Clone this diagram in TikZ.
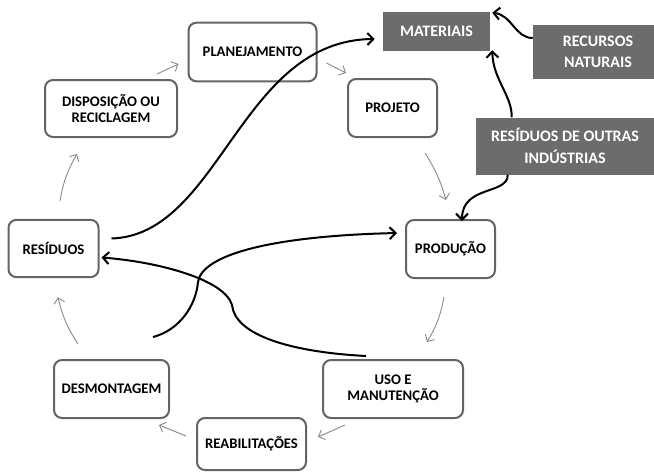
\documentclass[tikz,border=0pt]{standalone}
\usepackage{fontspec}
\setmainfont{Carlito}
\usetikzlibrary{arrows.meta}
\definecolor{borda}{RGB}{100,100,100}
\definecolor{cinza}{RGB}{108,108,108}
\definecolor{seta}{RGB}{140,140,140}

\begin{document}
\begin{tikzpicture}[
  x=0.75pt, y=-0.75pt,
  etapa/.style={
    rectangle, draw=borda, line width=1.5pt, rounded corners=6pt,
    fill=white, align=center, inner sep=0pt,
    font=\fontsize{11}{12.5}\selectfont\bfseries
  },
  fonte/.style={
    rectangle, fill=cinza, text=white, align=center, inner sep=0pt,
    font=\fontsize{12}{16}\selectfont\bfseries
  },
  ciclo/.style={-{Straight Barb[length=4pt,width=8pt]}, draw=seta, line width=0.7pt},
  fluxo/.style={-{Straight Barb[length=4.5pt,width=9pt]}, line width=1.5pt}
]
\useasboundingbox (0,0) rectangle (654,472);

\node[etapa, minimum width=96pt, minimum height=44pt] (plan) at (252.5,52) {PLANEJAMENTO};
\node[etapa, minimum width=66.75pt, minimum height=43.5pt] (proj) at (392.5,108) {PROJETO};
\node[etapa, minimum width=66.75pt, minimum height=43.5pt] (prod) at (450.5,249) {PRODUÇÃO};
\node[etapa, minimum width=105pt, minimum height=43.5pt] (uso) at (393,389) {USO E\\MANUTENÇÃO};
\node[etapa, minimum width=81.75pt, minimum height=39pt] (reab) at (251.5,444) {REABILITAÇÕES};
\node[etapa, minimum width=86.25pt, minimum height=43.5pt] (desm) at (111.5,389) {DESMONTAGEM};
\node[etapa, minimum width=67.5pt, minimum height=43pt] (resid) at (53.5,248.5) {RESÍDUOS};
\node[etapa, minimum width=99pt, minimum height=42.75pt] (disp) at (111,108.5) {DISPOSIÇÃO OU\\RECICLAGEM};

\node[fonte, minimum width=80.25pt, minimum height=29.25pt] (mat) at (436.5,31.5) {MATERIAIS};
\node[fonte, minimum width=97.5pt, minimum height=40.5pt] (rec) at (598,52) {RECURSOS\\NATURAIS};
\node[fonte, minimum width=133.5pt, minimum height=42.75pt] (rdo) at (565,146) {RESÍDUOS DE OUTRAS\\INDÚSTRIAS};

\coordinate (ini) at (153,337);

\draw[ciclo] ([shift={(-21,-5)}]disp.north east) -- ([shift={(-9,12)}]plan.west);
\draw[ciclo] ([shift={(9,11)}]plan.east) -- ([shift={(-1,-5)}]proj.north west);
\draw[ciclo] ([shift={(32.5,15)}]proj.south) to[bend left=8] ([shift={(-4.5,-19)}]prod.north);
\draw[ciclo] ([shift={(-6.5,18)}]prod.south) to[bend left=10] ([shift={(34,-17)}]uso.north);
\draw[ciclo] ([shift={(23,6)}]uso.south west) -- ([shift={(11,-7)}]reab.east);
\draw[ciclo] ([shift={(-10,-8)}]reab.west) -- ([shift={(-11,6)}]desm.south east);
\draw[ciclo] ([shift={(-33.5,-15)}]desm.north) to[bend left=10] ([shift={(4.5,19)}]resid.south);
\draw[ciclo] ([shift={(6.5,-18)}]resid.north) to[bend left=10] ([shift={(-34,16)}]disp.south);

\draw[fluxo] ([shift={(12,-10)}]resid.east) .. controls (220,235) and (240,40) .. ([shift={(-8,7.5)}]mat.west);
\draw[fluxo] (ini) .. controls (180,330) and (196,305) .. (198,282) .. controls (202,255) and (270,236) .. ([shift={(-8,-16)}]prod.west);
\draw[fluxo] ([shift={(-27,-3)}]uso.north) .. controls (290,352) and (235,335) .. (232,305) .. controls (225,280) and (160,262) .. ([shift={(2,9)}]resid.east);
\draw[fluxo] ([shift={(0,-14)}]rec.west) .. controls (515,38) and (512,15) .. ([shift={(2,1)}]mat.north east);
\draw[fluxo] ([shift={(36,0)}]rdo.north west) .. controls (512,95) and (493,80) .. ([shift={(2,-1)}]mat.south east);
\draw[fluxo] ([shift={(32,0)}]rdo.south west) .. controls (508,195) and (462,185) .. ([shift={(11.5,2)}]prod.north);

\end{tikzpicture}
\end{document}
